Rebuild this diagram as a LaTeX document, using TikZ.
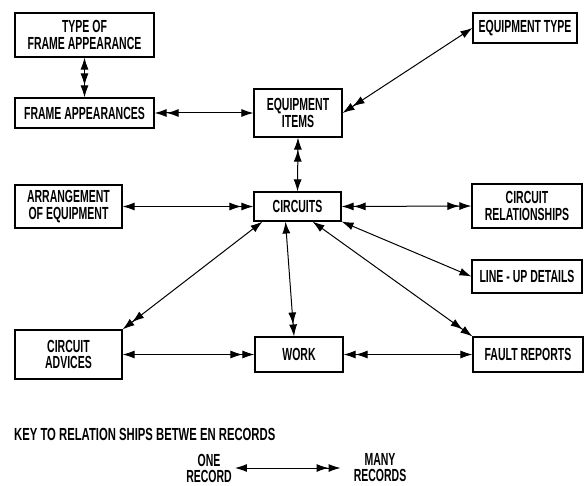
\documentclass[tikz,border=0pt]{standalone}
\usepackage{fontspec}
\setmainfont{Liberation Sans Bold}[FakeStretch=0.6]
\newfontfamily\keyfont{Liberation Sans Bold}[FakeStretch=0.645]
\usetikzlibrary{arrows.meta}
\begin{document}
\begin{tikzpicture}[x=1pt,y=-1pt,
  rec/.style={draw,line width=1.1pt,align=center,inner sep=1pt,
    font=\fontsize{17.5}{16.5}\selectfont},
  lbl/.style={align=center,inner sep=1pt,font=\fontsize{17.5}{16}\selectfont},
  conn/.style={line width=1pt,>={Latex[length=12pt,width=8pt]}}]
\useasboundingbox (0,0) rectangle (585,486);
% records
\node[rec,minimum width=139pt,minimum height=44pt] (tfa) at (84.5,35) {TYPE OF\\FRAME APPEARANCE};
\node[rec,minimum width=139pt,minimum height=30pt] (fa) at (84.5,113) {FRAME APPEARANCES};
\node[rec,minimum width=88pt,minimum height=48pt] (ei) at (298,113) {EQUIPMENT\\ITEMS};
\node[rec,minimum width=104pt,minimum height=30pt] (et) at (525,28) {EQUIPMENT TYPE};
\node[rec,minimum width=107pt,minimum height=43pt] (ae) at (68.5,206.5) {ARRANGEMENT\\OF EQUIPMENT};
\node[rec,minimum width=87pt,minimum height=29pt] (ci) at (297.5,206.5) {CIRCUITS};
\node[rec,minimum width=110pt,minimum height=44pt] (cr) at (527,206) {CIRCUIT\\RELATIONSHIPS};
\node[rec,minimum width=110pt,minimum height=33pt] (lu) at (527,276.5) {LINE - UP DETAILS};
\node[rec,minimum width=107pt,minimum height=49pt] (ca) at (68.5,354.5) {CIRCUIT\\ADVICES};
\node[rec,minimum width=88pt,minimum height=35pt] (wk) at (299,354.5) {WORK};
\node[rec,minimum width=110pt,minimum height=35pt] (fr) at (528,354.5) {FAULT REPORTS};
% connectors (single tip = one record, double tip = many records)
\draw[conn,<->>] (tfa.south) -- (fa.north);
\draw[conn,<->>] (ei.west) -- (fa.east);
\draw[conn,<->>] (et.west) -- (ei.east);
\draw[conn,<->>] (ci.north) -- (ei.south);
\draw[conn,<->>] (ae.east) -- (ci.west);
\draw[conn,<<->>] (ci.east) -- (cr.west);
\draw[conn,<->] (ci.south east) -- (lu.west);
\draw[conn,<->>] ([xshift=15pt]ci.south) -- (fr.north west);
\draw[conn,<->>] ([xshift=-12pt]ci.south) -- ([xshift=-5pt]wk.north);
\draw[conn,<->>] ([xshift=-35pt]ci.south) -- (ca.north east);
\draw[conn,<->>] (ca.east) -- (wk.west);
\draw[conn,<->>] (fr.west) -- (wk.east);
% key
\node[lbl,anchor=west,inner sep=0pt,font=\keyfont\fontsize{17.5}{16.5}\selectfont] (keytitle) at (14,434.5) {KEY TO RELATION SHIPS BETWE EN RECORDS};
\node[lbl] (one) at (209,468) {ONE\\RECORD};
\node[lbl] (many) at (380,468) {MANY\\RECORDS};
\coordinate (keystart) at ([xshift=2pt]one.east);
\coordinate (keyend) at ([xshift=-12pt]many.west);
\draw[conn,<->>] (keystart) -- (keyend);
\end{tikzpicture}
\end{document}
